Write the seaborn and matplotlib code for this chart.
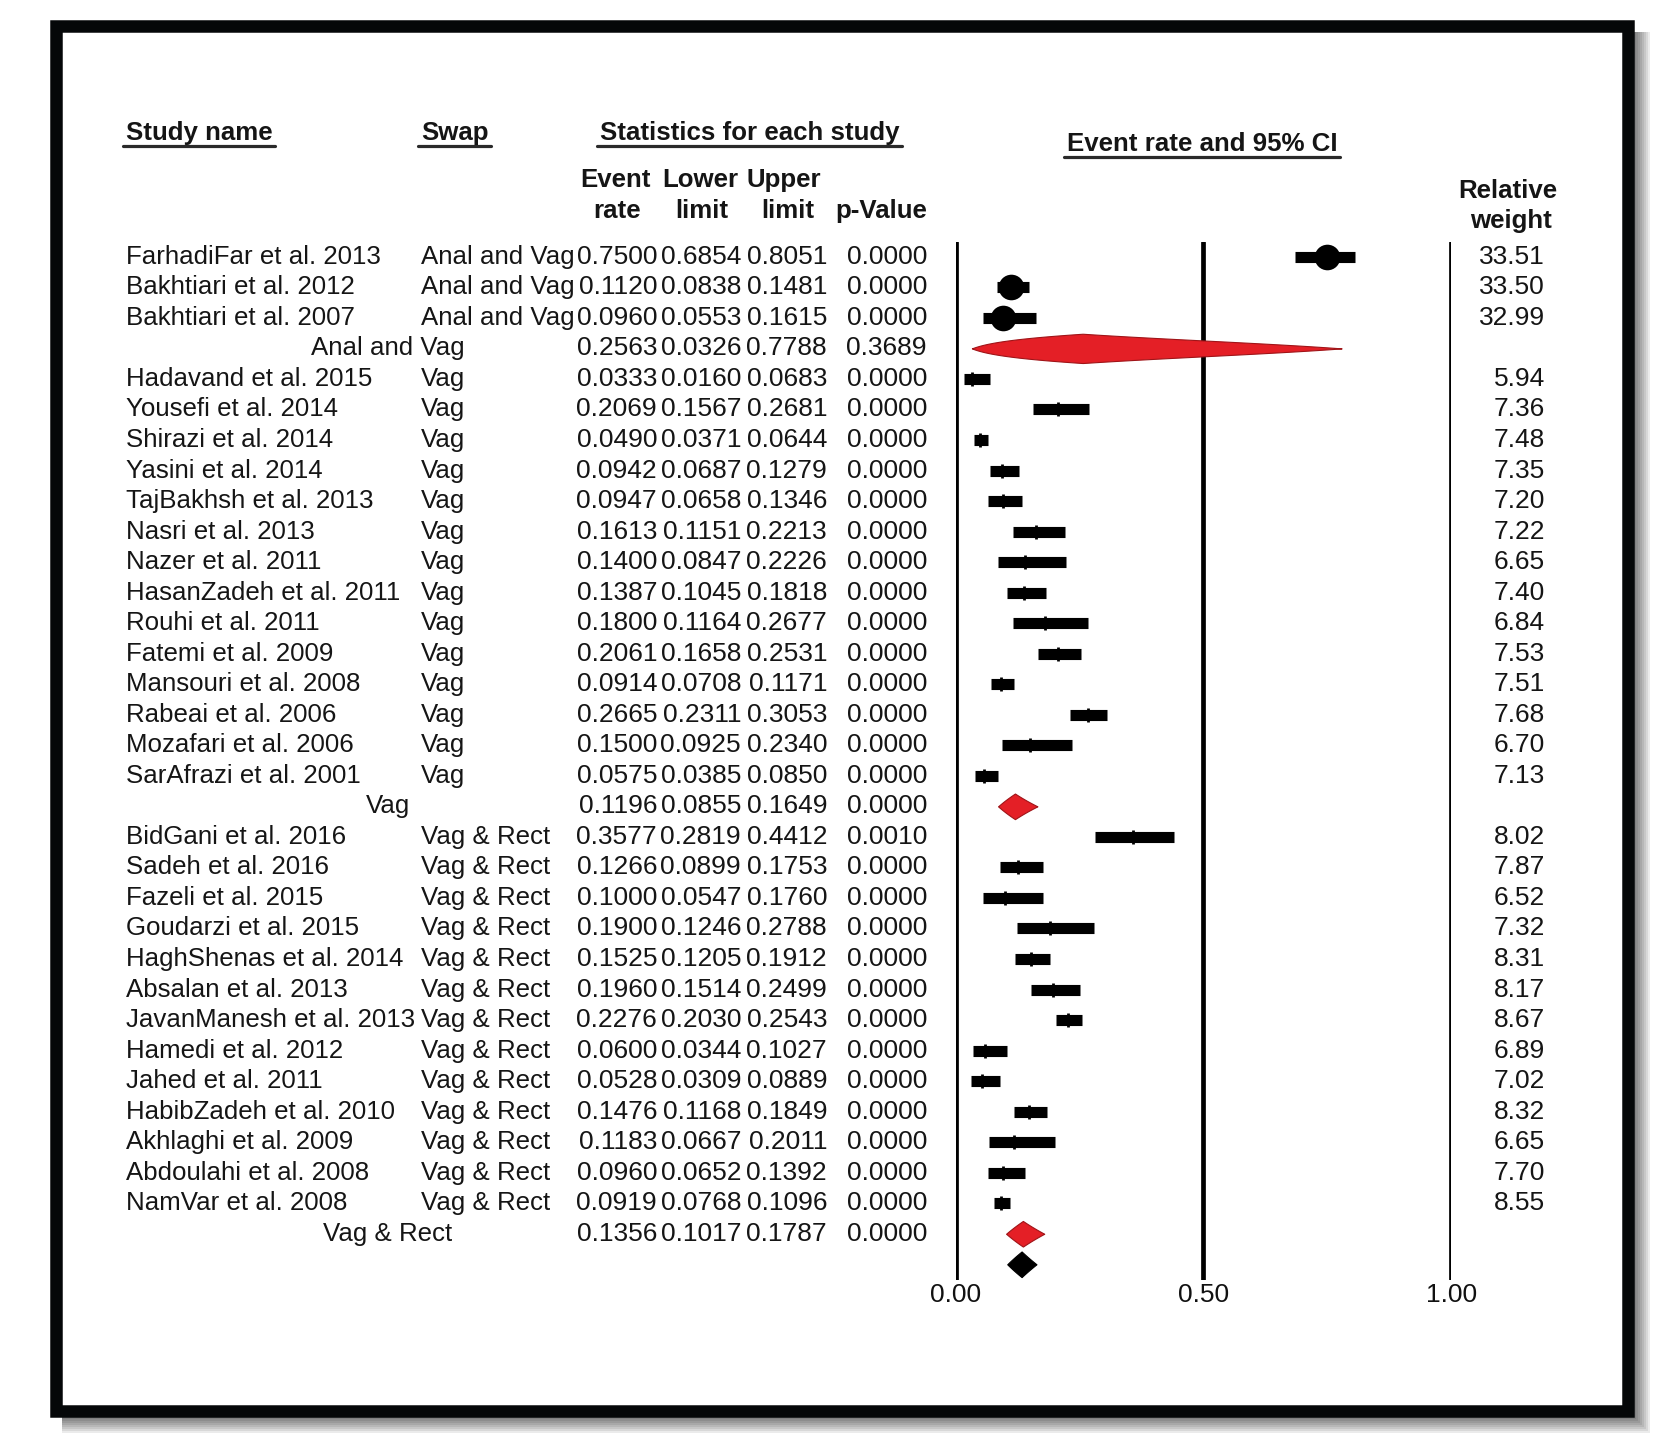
import numpy as np
import matplotlib
matplotlib.use("Agg")
import matplotlib.pyplot as plt
import matplotlib.patches as mpatches
import matplotlib.transforms as mtransforms
from matplotlib.lines import Line2D
import seaborn as sns
import pandas as pd

# ---------------- data ----------------
study = ["FarhadiFar et al. 2013", "Bakhtiari et al. 2012", "Bakhtiari et al. 2007",
         "Hadavand et al. 2015", "Yousefi et al. 2014", "Shirazi et al. 2014", "Yasini et al. 2014",
         "TajBakhsh et al. 2013", "Nasri et al. 2013", "Nazer et al. 2011", "HasanZadeh et al. 2011",
         "Rouhi et al. 2011", "Fatemi et al. 2009", "Mansouri et al. 2008", "Rabeai et al. 2006",
         "Mozafari et al. 2006", "SarAfrazi et al. 2001",
         "BidGani et al. 2016", "Sadeh et al. 2016", "Fazeli et al. 2015", "Goudarzi et al. 2015",
         "HaghShenas et al. 2014", "Absalan et al. 2013", "JavanManesh et al. 2013", "Hamedi et al. 2012",
         "Jahed et al. 2011", "HabibZadeh et al. 2010", "Akhlaghi et al. 2009", "Abdoulahi et al. 2008",
         "NamVar et al. 2008"]
swap = ["Anal and Vag"] * 3 + ["Vag"] * 14 + ["Vag & Rect"] * 13
rate = [0.7500, 0.1120, 0.0960,
        0.0333, 0.2069, 0.0490, 0.0942, 0.0947, 0.1613, 0.1400, 0.1387, 0.1800, 0.2061, 0.0914,
        0.2665, 0.1500, 0.0575,
        0.3577, 0.1266, 0.1000, 0.1900, 0.1525, 0.1960, 0.2276, 0.0600, 0.0528, 0.1476, 0.1183,
        0.0960, 0.0919]
lower = [0.6854, 0.0838, 0.0553,
         0.0160, 0.1567, 0.0371, 0.0687, 0.0658, 0.1151, 0.0847, 0.1045, 0.1164, 0.1658, 0.0708,
         0.2311, 0.0925, 0.0385,
         0.2819, 0.0899, 0.0547, 0.1246, 0.1205, 0.1514, 0.2030, 0.0344, 0.0309, 0.1168, 0.0667,
         0.0652, 0.0768]
upper = [0.8051, 0.1481, 0.1615,
         0.0683, 0.2681, 0.0644, 0.1279, 0.1346, 0.2213, 0.2226, 0.1818, 0.2677, 0.2531, 0.1171,
         0.3053, 0.2340, 0.0850,
         0.4412, 0.1753, 0.1760, 0.2788, 0.1912, 0.2499, 0.2543, 0.1027, 0.0889, 0.1849, 0.2011,
         0.1392, 0.1096]
pval = [0.0000] * 17 + [0.0010] + [0.0000] * 12
weight = [33.51, 33.50, 32.99,
          5.94, 7.36, 7.48, 7.35, 7.20, 7.22, 6.65, 7.40, 6.84, 7.53, 7.51, 7.68, 6.70, 7.13,
          8.02, 7.87, 6.52, 7.32, 8.31, 8.17, 8.67, 6.89, 7.02, 8.32, 6.65, 7.70, 8.55]

groups = ["Anal and Vag", "Vag", "Vag & Rect"]
grp_rate = [0.2563, 0.1196, 0.1356]
grp_lower = [0.0326, 0.0855, 0.1017]
grp_upper = [0.7788, 0.1649, 0.1787]
grp_p = [0.3689, 0.0000, 0.0000]

overall_rate, overall_lower, overall_upper = 0.1330, 0.1040, 0.1630

tick_vals = [0.0, 0.5, 1.0]
tick_labels = ["0.00", "0.50", "1.00"]

# ---------------- row layout ----------------
df = pd.DataFrame(dict(study=study, swap=swap, rate=rate, lower=lower, upper=upper,
                       pval=pval, weight=weight))
row = 0
study_rows = []
group_rows = []
for g in groups:
    n = (df["swap"] == g).sum()
    study_rows += list(range(row, row + n))
    row += n
    group_rows.append(row)
    row += 1
overall_row = row
df["row"] = study_rows

# ---------------- figure ----------------
W, H = 1678, 1445
sns.set_theme(style="white")
plt.rcParams["font.family"] = ["Liberation Sans", "DejaVu Sans"]
fig = plt.figure(figsize=(W / 100, H / 100), dpi=100)
fig.patch.set_facecolor("white")

def fx(px):
    return px / W

def fy(py):
    return 1 - py / H

# frame with shadow
for d in [2, 4, 6, 8, 10, 12, 14, 16]:
    fig.patches.append(mpatches.Rectangle((fx(62), fy(1417 + d)), fx(1634 + d - 62),
                                          (1417 + d - 32) / H, transform=fig.transFigure,
                                          facecolor="black", alpha=0.08, edgecolor="none",
                                          zorder=-2))
fig.patches.append(mpatches.Rectangle((fx(56.25), fy(1410.75)), fx(1627.75 - 56.25),
                                      (1410.75 - 25.75) / H, transform=fig.transFigure,
                                      facecolor="white", edgecolor="#050708",
                                      linewidth=12.5 * 0.72, zorder=-1))

# forest axes
x0_px, x1_px = 955.7, 1451.2
row0_px, pitch = 256.8, 30.53
top_px = row0_px - 0.5 * pitch
bot_px = row0_px + (overall_row + 0.5) * pitch
ax = fig.add_axes([fx(x0_px), fy(bot_px), fx(x1_px - x0_px), (bot_px - top_px) / H])
ax.set_zorder(5)
ax.patch.set_alpha(0)

for v in tick_vals:
    ax.axvline(v, color="black", lw=3.4, zorder=1)

# CI bars
ax.hlines(df["row"], df["lower"], df["upper"], color="black", lw=8.0, zorder=3,
          capstyle="butt")
big = df[df["weight"] > 20]
small = df[df["weight"] <= 20]
sns.scatterplot(data=big, x="rate", y="row", ax=ax, marker="o", s=340, color="black",
                edgecolor="black", linewidth=0, zorder=4, legend=False)
ax.plot(small["rate"], small["row"], linestyle="none", marker="|", markersize=9.5,
        markeredgewidth=2.0, color="black", zorder=4)
ax.set_xlim(0, 1)
ax.set_ylim(overall_row + 0.5, -0.5)
ax.axis("off")

def logit(p):
    p = np.asarray(p)
    return np.log(p / (1 - p))

def diamond(c, lo, hi, r, half, face, edge):
    xs = np.linspace(lo, hi, 400)
    lc = logit(c)
    frac = np.where(xs <= c,
                    1 - (lc - logit(xs)) / (lc - logit(lo)),
                    1 - (logit(xs) - lc) / (logit(hi) - lc))
    frac = np.clip(frac, 0, 1)
    ax.fill_between(xs, r - half * frac, r + half * frac, facecolor=face, edgecolor=edge,
                    linewidth=0.8, zorder=5)

for i, g in enumerate(groups):
    half = 0.48 if i == 0 else 0.42
    diamond(grp_rate[i], grp_lower[i], grp_upper[i], group_rows[i], half, "#e41f26", "#a01418")
diamond(overall_rate, overall_lower, overall_upper, overall_row, 0.42, "black", "black")

# tick labels
for v, lab in zip(tick_vals, tick_labels):
    ax.text(v, overall_row + 1.0, lab, ha="center", va="center", fontsize=19, color="#111",
            clip_on=False)

# ---------------- table text ----------------
trans = mtransforms.blended_transform_factory(fig.transFigure, ax.transData)
FS = 18.6
NFS = 19
col_name, col_swap = 126, 421
col_event, col_lower, col_upper, col_p, col_w = 657, 741, 827, 927, 1545
txt = dict(color="#151515", va="center")

def fmt4(v):
    return f"{v:.4f}"

for _, r in df.iterrows():
    y = r["row"]
    fig.text(fx(col_name), y, r["study"], transform=trans, ha="left", fontsize=FS, **txt)
    fig.text(fx(col_swap), y, r["swap"], transform=trans, ha="left", fontsize=FS, **txt)
    fig.text(fx(col_event), y, fmt4(r["rate"]), transform=trans, ha="right", fontsize=NFS, **txt)
    fig.text(fx(col_lower), y, fmt4(r["lower"]), transform=trans, ha="right", fontsize=NFS, **txt)
    fig.text(fx(col_upper), y, fmt4(r["upper"]), transform=trans, ha="right", fontsize=NFS, **txt)
    fig.text(fx(col_p), y, fmt4(r["pval"]), transform=trans, ha="right", fontsize=NFS, **txt)
    fig.text(fx(col_w), y, f"{r['weight']:.2f}", transform=trans, ha="right", fontsize=NFS, **txt)

for i, g in enumerate(groups):
    y = group_rows[i]
    fig.text(fx(388), y, g, transform=trans, ha="center", fontsize=FS, **txt)
    fig.text(fx(col_event), y, fmt4(grp_rate[i]), transform=trans, ha="right", fontsize=NFS, **txt)
    fig.text(fx(col_lower), y, fmt4(grp_lower[i]), transform=trans, ha="right", fontsize=NFS, **txt)
    fig.text(fx(col_upper), y, fmt4(grp_upper[i]), transform=trans, ha="right", fontsize=NFS, **txt)
    fig.text(fx(col_p), y, fmt4(grp_p[i]), transform=trans, ha="right", fontsize=NFS, **txt)

# headers
hb = dict(fontweight="bold", color="#151515", va="center", fontsize=FS)
h_study = fig.text(fx(126), fy(133), "Study name", ha="left", **hb)
h_swap = fig.text(fx(421), fy(133), "Swap", ha="left", **hb)
h_stats = fig.text(fx(600), fy(133), "Statistics for each study", ha="left", **hb)
h_ci = fig.text(fx(1067), fy(144), "Event rate and 95% CI", ha="left", **hb)
fig.text(fx(615), fy(180), "Event", ha="center", **hb)
fig.text(fx(617), fy(211), "rate", ha="center", **hb)
fig.text(fx(700), fy(180), "Lower", ha="center", **hb)
fig.text(fx(702), fy(211), "limit", ha="center", **hb)
fig.text(fx(784), fy(180), "Upper", ha="center", **hb)
fig.text(fx(788), fy(211), "limit", ha="center", **hb)
fig.text(fx(927), fy(211), "p-Value", ha="right", **hb)
fig.text(fx(1508), fy(191), "Relative", ha="center", **hb)
fig.text(fx(1511), fy(221), "weight", ha="center", **hb)

fig.canvas.draw()
renderer = fig.canvas.get_renderer()
for t in [h_study, h_swap, h_stats, h_ci]:
    bb = t.get_window_extent(renderer)
    yy = bb.y0 - 1
    fig.lines.append(Line2D([bb.x0 - 3, bb.x1 + 2], [yy, yy], transform=None,
                            color="#2a2a2a", lw=2.3))

fig.savefig("out.png", dpi=100, facecolor="white")
